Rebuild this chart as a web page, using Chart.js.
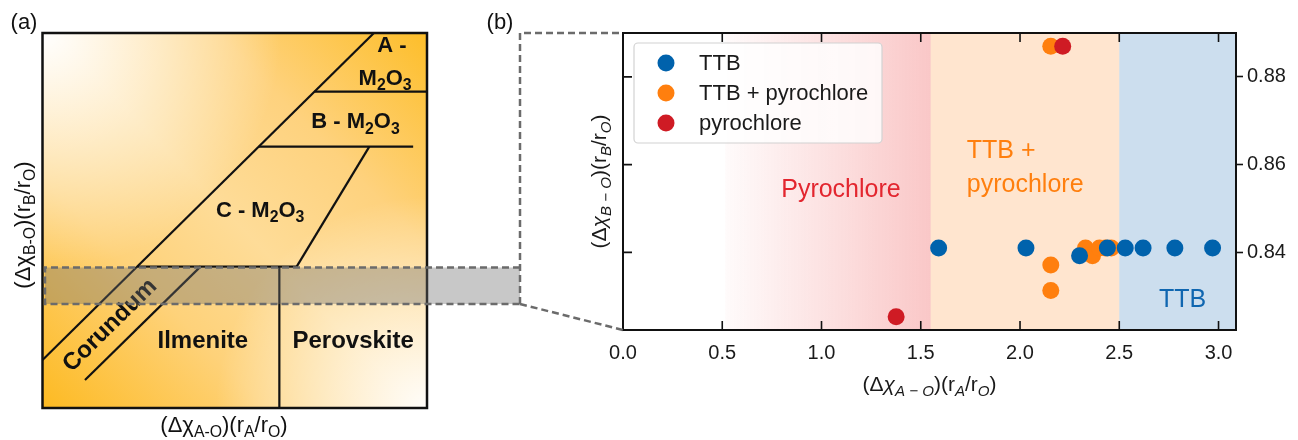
<!DOCTYPE html>
<html>
<head>
<meta charset="utf-8">
<script src="https://cdn.jsdelivr.net/npm/chart.js@4.4.0/dist/chart.umd.min.js"></script>
<style>
  html, body { margin: 0; padding: 0; background: #fff; }
  #wrap { position: relative; width: 1298px; height: 440px; }
  #wrap canvas { position: absolute; left: 0; top: 0; }
</style>
</head>
<body>
<div id="wrap">
  <canvas id="mapCanvas" width="540" height="440"></canvas>
  <canvas id="scatterCanvas" width="1298" height="440"></canvas>
</div>
<script>
// ---- panel (b) data ----
const xTicks = [0, 0.5, 1.0, 1.5, 2.0, 2.5, 3.0];
const yTicks = [0.84, 0.86, 0.88];

const ttbX = [1.59, 2.03, 2.30, 2.44, 2.53, 2.62, 2.78, 2.97];
const ttbY = [0.841, 0.841, 0.8392, 0.841, 0.841, 0.841, 0.841, 0.841];

const mixX = [2.155, 2.155, 2.155, 2.33, 2.365, 2.40, 2.43, 2.46];
const mixY = [0.887, 0.8371, 0.8313, 0.841, 0.8392, 0.841, 0.841, 0.841];

const pyroX = [1.376, 2.215];
const pyroY = [0.8253, 0.887];

// phase boundaries along x: pyrochlore fade start, pyrochlore | mixed, mixed | TTB
const phaseEdges = [0.515, 1.55, 2.5];

// ---- panel (a) schematic, unit square 0..10 ----
const corundumUpper = [{x: 0, y: 1.28}, {x: 8.62, y: 10}];
const corundumLower = [{x: 1.105, y: 0.747}, {x: 4.115, y: 3.776}];
const cPhaseBase = [{x: 2.46, y: 3.77}, {x: 6.61, y: 3.77}];
const cPhaseSide = [{x: 6.61, y: 3.77}, {x: 8.50, y: 6.97}];
const bPhaseBase = [{x: 5.625, y: 6.97}, {x: 9.64, y: 6.97}];
const aPhaseBase = [{x: 7.07, y: 8.435}, {x: 10, y: 8.435}];
const perovskiteEdge = [{x: 6.16, y: 0}, {x: 6.16, y: 3.77}];

const FONT = "'Liberation Sans', Arial, sans-serif";
const BLUE = '#0062ac';
const ORANGE = '#ff7f0e';
const RED = '#cf1b24';

const toPoints = (xs, ys) => xs.map((x, i) => ({x: x, y: ys[i]}));

// text with subscripts, parts = [{t, s (sub), i (italic)}]
function drawRich(ctx, parts, x, y, size, opt) {
    opt = opt || {};
    const weight = opt.bold ? 'bold ' : '';
    const fontFor = p => (p.i ? 'italic ' : '') + weight + (p.s ? size * 0.72 : size) + 'px ' + FONT;
    let total = 0;
    parts.forEach(p => { ctx.font = fontFor(p); total += ctx.measureText(p.t).width; });
    ctx.save();
    ctx.translate(x, y);
    if (opt.rot) ctx.rotate(opt.rot);
    ctx.fillStyle = opt.color || '#111';
    ctx.textBaseline = opt.baseline || 'alphabetic';
    ctx.textAlign = 'left';
    let cx = opt.align === 'left' ? 0 : -total / 2;
    parts.forEach(p => {
        ctx.font = fontFor(p);
        ctx.fillText(p.t, cx, p.s ? size * 0.24 : 0);
        cx += ctx.measureText(p.t).width;
    });
    ctx.restore();
}

const M2O3 = [{t: 'M'}, {t: '2', s: 1}, {t: 'O'}, {t: '3', s: 1}];

// labels of panel (a), placed in unit coords
const mapLabels = [
    {parts: [{t: 'A -'}], u: 9.09, v: 9.485},
    {parts: M2O3, u: 8.91, v: 8.61},
    {parts: [{t: 'B - '}].concat(M2O3), u: 8.14, v: 7.46},
    {parts: [{t: 'C - '}].concat(M2O3), u: 5.66, v: 5.10},
    {parts: [{t: 'Ilmenite'}], u: 4.17, v: 1.59, size: 24},
    {parts: [{t: 'Perovskite'}], u: 8.08, v: 1.59, size: 24},
    {parts: [{t: 'Corundum'}], u: 1.755, v: 2.2, size: 24, rot: -44.6 * Math.PI / 180, baseline: 'middle'}
];

const mapBackground = {
    id: 'mapBackground',
    beforeDatasetsDraw(chart) {
        const {ctx, chartArea: {left, top, right, bottom}} = chart;
        const w = right - left, h = bottom - top;
        ctx.save();
        let g = ctx.createLinearGradient(left, bottom, right, top);
        g.addColorStop(0, '#fdba22');
        g.addColorStop(0.3, '#fed27a');
        g.addColorStop(0.5, '#fedc98');
        g.addColorStop(0.72, '#fed27e');
        g.addColorStop(1, '#fdbe2a');
        ctx.fillStyle = g;
        ctx.fillRect(left, top, w, h);
        let r = ctx.createRadialGradient(left, top, 0, left, top, w * 0.62);
        r.addColorStop(0, 'rgba(255,255,255,1)');
        r.addColorStop(1, 'rgba(255,255,255,0)');
        ctx.fillStyle = r;
        ctx.fillRect(left, top, w, h);
        r = ctx.createRadialGradient(right, bottom, 0, right, bottom, w * 0.55);
        r.addColorStop(0, 'rgba(255,255,255,0.95)');
        r.addColorStop(1, 'rgba(255,255,255,0)');
        ctx.fillStyle = r;
        ctx.fillRect(left, top, w, h);
        ctx.restore();
    },
    afterDraw(chart) {
        const {ctx, chartArea: {left, top, right, bottom}, scales: {x, y}} = chart;
        ctx.save();
        ctx.strokeStyle = '#111';
        ctx.lineWidth = 2.5;
        ctx.strokeRect(left, top, right - left, bottom - top);
        ctx.restore();
        mapLabels.forEach(l => {
            drawRich(ctx, l.parts, x.getPixelForValue(l.u), y.getPixelForValue(l.v), l.size || 22,
                {bold: true, rot: l.rot, baseline: l.baseline});
        });
        drawRich(ctx, [{t: '(Δχ'}, {t: 'A-O', s: 1}, {t: ')(r'}, {t: 'A', s: 1}, {t: '/r'}, {t: 'O', s: 1}, {t: ')'}],
            224, 432, 22);
        drawRich(ctx, [{t: '(Δχ'}, {t: 'B-O', s: 1}, {t: ')(r'}, {t: 'B', s: 1}, {t: '/r'}, {t: 'O', s: 1}, {t: ')'}],
            30, 225, 22, {rot: -Math.PI / 2});
        drawRich(ctx, [{t: '(a)'}], 24, 29, 22);
    }
};

new Chart(document.getElementById('mapCanvas'), {
    type: 'scatter',
    data: {
        datasets: [corundumUpper, corundumLower, cPhaseBase, cPhaseSide, bPhaseBase, aPhaseBase, perovskiteEdge]
            .map(seg => ({data: seg, showLine: true, borderColor: '#111', borderWidth: 2.2, pointRadius: 0, fill: false}))
    },
    options: {
        responsive: false,
        animation: false,
        layout: {padding: {left: 42.5, top: 33, right: 113, bottom: 32}},
        plugins: {legend: {display: false}, tooltip: {enabled: false}},
        scales: {
            x: {type: 'linear', min: 0, max: 10, display: false},
            y: {type: 'linear', min: 0, max: 10, display: false}
        }
    },
    plugins: [mapBackground]
});

// ---- panel (b) ----
const regionLabels = [
    {text: 'Pyrochlore', x: 1.098, y: 0.8527, color: '#e3262f', align: 'center'},
    {text: 'TTB +', x: 1.732, y: 0.8614, color: ORANGE, align: 'left'},
    {text: 'pyrochlore', x: 1.732, y: 0.8538, color: ORANGE, align: 'left'},
    {text: 'TTB', x: 2.70, y: 0.8275, color: '#0f66b0', align: 'left'}
];

const phaseBands = {
    id: 'phaseBands',
    beforeDatasetsDraw(chart) {
        const {ctx, chartArea: {left, top, right, bottom}, scales: {x, y}} = chart;
        const h = bottom - top;
        const p0 = x.getPixelForValue(phaseEdges[0]);
        const p1 = x.getPixelForValue(phaseEdges[1]);
        const p2 = x.getPixelForValue(phaseEdges[2]);
        ctx.save();
        const g = ctx.createLinearGradient(p0, 0, p1, 0);
        g.addColorStop(0, 'rgba(235,40,40,0.02)');
        g.addColorStop(1, 'rgba(235,40,40,0.26)');
        ctx.fillStyle = g;
        ctx.fillRect(p0, top, p1 - p0, h);
        ctx.fillStyle = 'rgba(255,127,14,0.2)';
        ctx.fillRect(p1, top, p2 - p1, h);
        ctx.fillStyle = 'rgba(0,90,170,0.2)';
        ctx.fillRect(p2, top, right - p2, h);
        ctx.font = '25px ' + FONT;
        ctx.textBaseline = 'alphabetic';
        regionLabels.forEach(l => {
            ctx.fillStyle = l.color;
            ctx.textAlign = l.align;
            ctx.fillText(l.text, x.getPixelForValue(l.x), y.getPixelForValue(l.y));
        });
        ctx.restore();
    }
};

const legendItems = [
    {text: 'TTB', color: BLUE},
    {text: 'TTB + pyrochlore', color: ORANGE},
    {text: 'pyrochlore', color: RED}
];

const frameAndLegend = {
    id: 'frameAndLegend',
    afterDatasetsDraw(chart) {
        const {ctx, chartArea: {left, top, right, bottom}, scales: {x, y}} = chart;
        ctx.save();
        // inward ticks on bottom, top and left
        ctx.strokeStyle = '#111';
        ctx.lineWidth = 1.6;
        ctx.beginPath();
        xTicks.forEach(v => {
            const px = x.getPixelForValue(v);
            ctx.moveTo(px, bottom); ctx.lineTo(px, bottom - 9);
            ctx.moveTo(px, top); ctx.lineTo(px, top + 9);
        });
        yTicks.forEach(v => {
            const py = y.getPixelForValue(v);
            ctx.moveTo(left, py); ctx.lineTo(left + 9, py);
        });
        ctx.stroke();
        ctx.lineWidth = 2;
        ctx.strokeRect(left, top, right - left, bottom - top);

        // legend box
        const bx = left + 11, by = top + 10, bw = 248, bh = 100;
        ctx.beginPath();
        ctx.roundRect(bx, by, bw, bh, 4);
        ctx.fillStyle = 'rgba(255,255,255,0.82)';
        ctx.fill();
        ctx.strokeStyle = '#d2d2d2';
        ctx.lineWidth = 1.2;
        ctx.stroke();
        ctx.font = '22px ' + FONT;
        ctx.textBaseline = 'middle';
        ctx.textAlign = 'left';
        legendItems.forEach((it, i) => {
            const ry = by + 20 + i * 30;
            ctx.beginPath();
            ctx.arc(bx + 32, ry, 8.5, 0, Math.PI * 2);
            ctx.fillStyle = it.color;
            ctx.fill();
            ctx.fillStyle = '#1a1a1a';
            ctx.fillText(it.text, bx + 65, ry + 1);
        });
        ctx.restore();
    },
    afterDraw(chart) {
        const {ctx, chartArea: {left, top, right, bottom}} = chart;
        drawRich(ctx, [{t: '(Δ'}, {t: 'χ', i: 1}, {t: 'A − O', s: 1, i: 1}, {t: ')(r'}, {t: 'A', s: 1, i: 1},
            {t: '/r'}, {t: 'O', s: 1, i: 1}, {t: ')'}], (left + right) / 2, 391, 21, {color: '#1a1a1a'});
        drawRich(ctx, [{t: '(Δ'}, {t: 'χ', i: 1}, {t: 'B − O', s: 1, i: 1}, {t: ')(r'}, {t: 'B', s: 1, i: 1},
            {t: '/r'}, {t: 'O', s: 1, i: 1}, {t: ')'}], left - 17, (top + bottom) / 2, 21,
            {color: '#1a1a1a', rot: -Math.PI / 2});
        drawRich(ctx, [{t: '(b)'}], 500, 29, 22);

        // zoom window linking the two panels
        const bandL = 45, bandR = 520, bandT = 267.5, bandB = 304;
        ctx.save();
        ctx.fillStyle = 'rgba(110,110,110,0.38)';
        ctx.fillRect(bandL, bandT, bandR - bandL, bandB - bandT);
        ctx.strokeStyle = '#6b6b6b';
        ctx.lineWidth = 2.5;
        ctx.setLineDash([7, 4]);
        ctx.beginPath();
        ctx.moveTo(bandR, bandT); ctx.lineTo(bandL, bandT);
        ctx.lineTo(bandL, bandB); ctx.lineTo(bandR, bandB);
        ctx.moveTo(bandR, bandB); ctx.lineTo(bandR, top); ctx.lineTo(left, top);
        ctx.moveTo(bandR, bandB); ctx.lineTo(left, bottom);
        ctx.stroke();
        ctx.restore();
    }
};

new Chart(document.getElementById('scatterCanvas'), {
    type: 'scatter',
    data: {
        datasets: [
            {label: 'TTB', data: toPoints(ttbX, ttbY), backgroundColor: BLUE, order: 0},
            {label: 'TTB + pyrochlore', data: toPoints(mixX, mixY), backgroundColor: ORANGE, order: 2},
            {label: 'pyrochlore', data: toPoints(pyroX, pyroY), backgroundColor: RED, order: 1}
        ]
    },
    options: {
        responsive: false,
        animation: false,
        layout: {padding: {left: 623, top: 33, right: 0, bottom: 0}},
        elements: {point: {radius: 8.5, hoverRadius: 8.5, borderWidth: 0}},
        plugins: {legend: {display: false}, tooltip: {enabled: false}},
        scales: {
            x: {
                type: 'linear', min: 0, max: 3.088, position: 'bottom',
                afterBuildTicks: s => { s.ticks = xTicks.map(v => ({value: v})); },
                afterFit: s => { s.height = 110; },
                grid: {display: false, drawTicks: false},
                border: {display: false},
                ticks: {padding: 11, color: '#1a1a1a', font: {family: FONT, size: 20}, maxRotation: 0, autoSkip: false,
                    callback: v => v.toFixed(1)}
            },
            y: {
                type: 'linear', min: 0.8223, max: 0.890, position: 'right',
                afterBuildTicks: s => { s.ticks = yTicks.map(v => ({value: v})); },
                afterFit: s => { s.width = 62; },
                grid: {display: true, drawOnChartArea: false, drawTicks: true, tickLength: 7, tickColor: '#111', tickWidth: 1.6},
                border: {display: false},
                ticks: {padding: 4, color: '#1a1a1a', font: {family: FONT, size: 20}, callback: v => v.toFixed(2)}
            }
        }
    },
    plugins: [phaseBands, frameAndLegend]
});
</script>
</body>
</html>
